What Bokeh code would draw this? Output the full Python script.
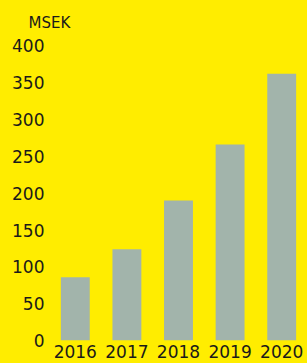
from bokeh.plotting import figure
from bokeh.models import Range1d, FixedTicker, ColumnDataSource
from bokeh.embed import file_html
from bokeh.resources import INLINE

years = ["2016", "2017", "2018", "2019", "2020"]
msek = [86, 124, 190, 266, 362]
y_ticks = [0, 50, 100, 150, 200, 250, 300, 350, 400]

BG = "#FFED00"
BAR = "#A2B4AB"
TXT = "#1a1a1a"
FONT = "DejaVu Sans"

src = ColumnDataSource(dict(x=years, top=msek))

p = figure(x_range=years, y_range=Range1d(0, 410), width=307, height=363,
           output_backend="svg", toolbar_location=None,
           title="MSEK",
           min_border_left=49, min_border_right=0, min_border_top=38, min_border_bottom=23)
p.background_fill_color = BG
p.border_fill_color = BG
p.outline_line_color = None
p.x_range.range_padding = 0
p.styles = {"background-color": BG}

p.vbar(x="x", top="top", bottom=0, width=0.56, source=src, color=BAR, line_color=None)

p.title.text_font = FONT
p.title.text_font_size = "15px"
p.title.text_font_style = "normal"
p.title.text_color = TXT
p.title.align = "left"
p.title.offset = -21
p.title.standoff = 14

p.xgrid.visible = False
p.ygrid.visible = False

for ax in (p.xaxis[0], p.yaxis[0]):
    ax.axis_line_color = None
    ax.major_tick_line_color = None
    ax.minor_tick_line_color = None
    ax.major_tick_out = 0
    ax.major_tick_in = 0
    ax.major_label_text_font = FONT
    ax.major_label_text_font_size = "17px"
    ax.major_label_text_color = TXT

p.yaxis[0].ticker = FixedTicker(ticks=y_ticks)
p.yaxis[0].major_label_standoff = 5
p.xaxis[0].major_label_standoff = 4

open("out.html", "w").write(file_html(p, INLINE))
